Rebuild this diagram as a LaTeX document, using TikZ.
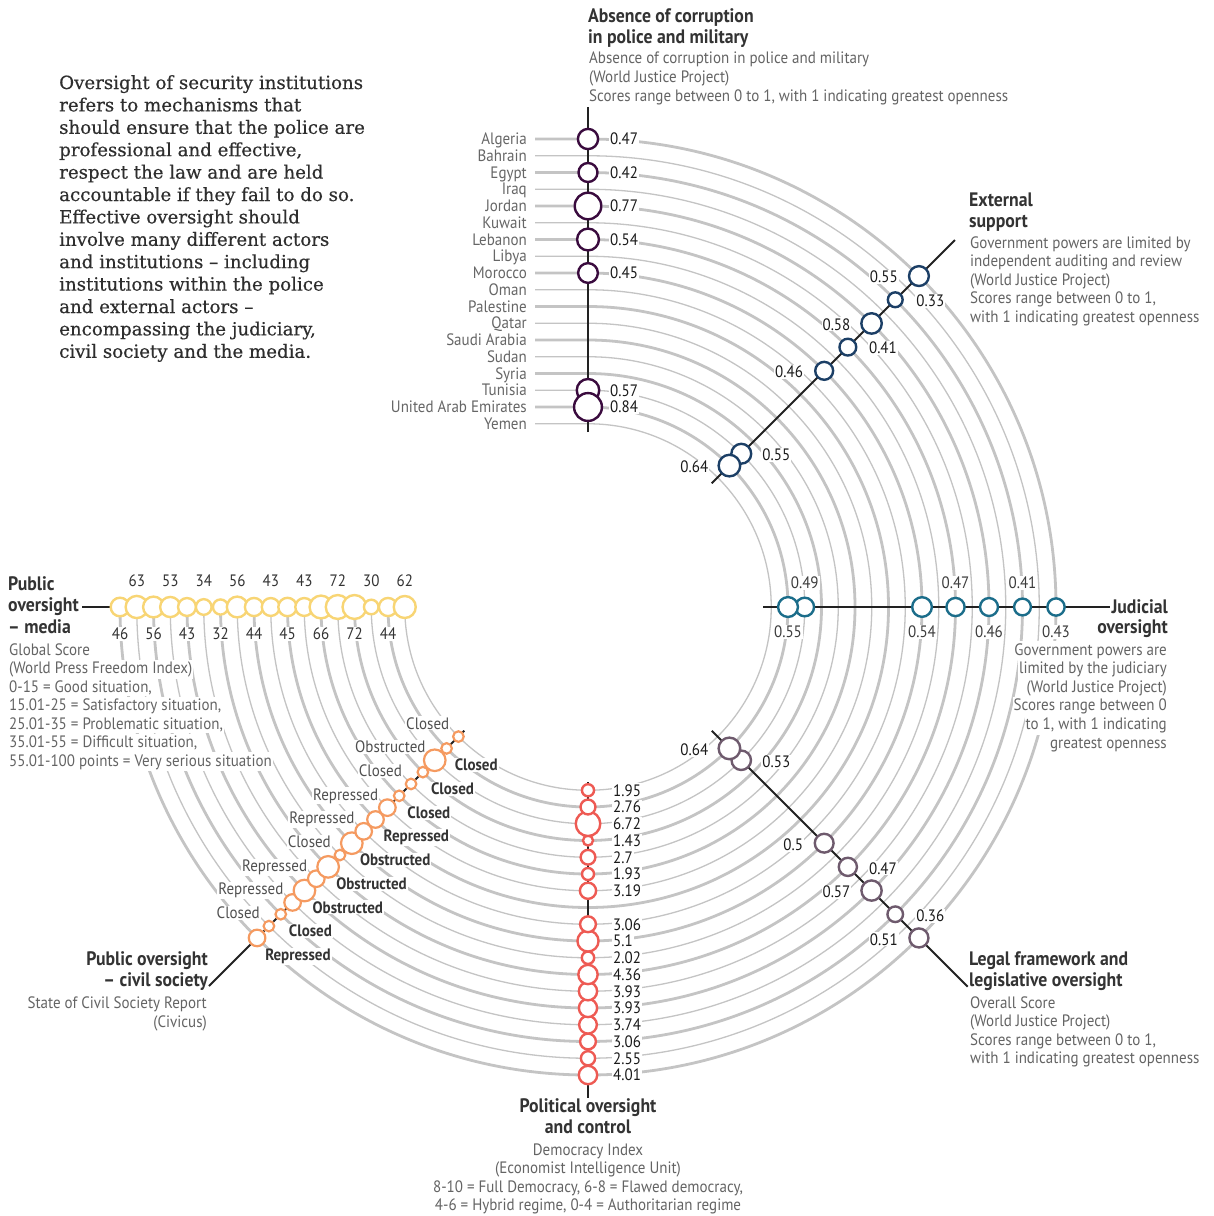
\documentclass[tikz,border=0pt]{standalone}
\usepackage{fontspec}
\setmainfont{PT Sans}[FakeStretch=0.91]
\newfontfamily\parafont{DejaVu Serif}[Ligatures=TeX, FakeBold=0.4]
\usetikzlibrary{calc}
\definecolor{axcol}{HTML}{222222}
\definecolor{arccol}{HTML}{C4C4C4}
\definecolor{cntcol}{HTML}{666666}
\definecolor{numcol}{HTML}{1A1A1A}
\definecolor{ttlcol}{HTML}{333333}
\definecolor{subcol}{HTML}{646464}
\definecolor{corrcol}{HTML}{3A0B3E}
\definecolor{extcol}{HTML}{1C3F66}
\definecolor{judcol}{HTML}{1B6D8A}
\definecolor{legcol}{HTML}{6E5A6D}
\definecolor{polcol}{HTML}{EE5A53}
\definecolor{civcol}{HTML}{F59A60}
\definecolor{medcol}{HTML}{F8D574}
\definecolor{paracol}{HTML}{2E2E2E}
% name, x, first baseline, skip, node options, list of lines
\newcommand\linesblock[6]{%
  \foreach \tl [count=\k from 0] in {#6} {
    \node[#5] (#1\k) at (#2, #3 - #4*\k) {\tl};
  }%
}
\begin{document}
\begin{tikzpicture}[x=1pt, y=1pt,
  arcline/.style={draw=arccol},
  axisline/.style={draw=axcol, line width=2pt},
  cntlab/.style={font=\fontsize{16.5}{19}\selectfont, text=cntcol, anchor=base east, inner sep=0pt},
  numlab/.style={font=\fontsize{16.5}{19}\selectfont, text=numcol, fill=white, inner sep=1pt},
  datacirc/.style={circle, fill=white, line width=2.4pt, inner sep=0pt},
  ttl/.style={font=\fontsize{19.5}{21}\selectfont\bfseries, text=ttlcol, inner sep=0pt},
  subtxt/.style={font=\fontsize{16.5}{19}\selectfont, text=subcol, fill=white, inner xsep=1pt, inner ysep=2pt},
  civL/.style={font=\fontsize{16.5}{19}\selectfont, text=subcol!80!black, fill=white, inner sep=1pt, anchor=base east},
  civR/.style={font=\fontsize{16.5}{19}\selectfont\bfseries, text=ttlcol, fill=white, inner sep=1pt, anchor=base west},
  paratxt/.style={font=\parafont\fontsize{18.2}{22}\selectfont, text=paracol, inner sep=0pt, anchor=base west}
]
\useasboundingbox (0,0) rectangle (1214,-1216);
\fill[white] (0,0) rectangle (1214,-1216);
\coordinate (C) at (588,-607);

% concentric country arcs
\foreach \i in {0,...,17}{
  \pgfmathsetmacro\r{468-16.75*\i}
  \pgfmathsetmacro\lw{ifthenelse(mod(\i,2)==0,2.8,1.3)}
  \draw[arcline, line width=\lw pt] ($(C)+(-53,\r)$) -- ($(C)+(0,\r)$) arc[start angle=90, end angle=-180, radius=\r];
}

% country names
\foreach \n [count=\i from 0] in {Algeria,Bahrain,Egypt,Iraq,Jordan,Kuwait,Lebanon,Libya,Morocco,Oman,Palestine,Qatar,Saudi Arabia,Sudan,Syria,Tunisia,United Arab Emirates,Yemen}{
  \pgfmathsetmacro\r{468-16.75*\i}
  \node[cntlab] (cn\i) at ($(C)+(-61,\r-5.5)$) {\n};
}

% intro paragraph
\linesblock{para}{59}{-89}{22.4}{paratxt}{Oversight of security institutions,refers to mechanisms that,should ensure that the police are,{professional and effective,},respect the law and are held,accountable if they fail to do so.,Effective oversight should,involve many different actors,and institutions – including,institutions within the police,and external actors –,{encompassing the judiciary,},civil society and the media.}

% axis titles and descriptions
\linesblock{corT}{588}{-22}{21}{ttl, anchor=base west}{Absence of corruption,in police and military}
\linesblock{corS}{588}{-63}{19}{subtxt, anchor=base west}{Absence of corruption in police and military,(World Justice Project),{Scores range between 0 to 1, with 1 indicating greatest openness}}

\linesblock{extT}{969}{-206}{21}{ttl, anchor=base west}{External,support}
\linesblock{extS}{969}{-248}{18.6}{subtxt, anchor=base west}{Government powers are limited by,independent auditing and review,(World Justice Project),{Scores range between 0 to 1,},with 1 indicating greatest openness}

\linesblock{judT}{1168}{-613}{20.5}{ttl, anchor=base east}{Judicial,oversight}
\linesblock{judS}{1168}{-655}{18.6}{subtxt, anchor=base east}{Government powers are,limited by the judiciary,(World Justice Project),Scores range between 0,{to 1, with 1 indicating},greatest openness}

\linesblock{legT}{969}{-965}{21.5}{ttl, anchor=base west}{Legal framework and,legislative oversight}
\linesblock{legS}{969}{-1008}{18.6}{subtxt, anchor=base west}{Overall Score,(World Justice Project),{Scores range between 0 to 1,},with 1 indicating greatest openness}

\linesblock{polT}{588}{-1112}{21}{ttl, anchor=base}{Political oversight,and control}
\linesblock{polS}{588}{-1155}{18.6}{subtxt, anchor=base}{Democracy Index,(Economist Intelligence Unit),{8-10 = Full Democracy, 6-8 = Flawed democracy,},{4-6 = Hybrid regime, 0-4 = Authoritarian regime}}

\linesblock{civT}{208}{-965}{21.5}{ttl, anchor=base east}{Public oversight,– civil society}
\linesblock{civS}{208}{-1008}{19}{subtxt, anchor=base east}{State of Civil Society Report,(Civicus)}

\linesblock{medT}{8}{-590}{21.5}{ttl, anchor=base west}{Public,oversight,– media}
\linesblock{medS}{8}{-655}{18.5}{subtxt, anchor=base west}{Global Score,(World Press Freedom Index),{0-15 = Good situation,},{15.01-25 = Satisfactory situation,},{25.01-35 = Problematic situation,},{35.01-55 = Difficult situation,},55.01-100 points = Very serious situation}

% ---------- value labels (white backed, mask arcs)
\foreach \i/\v in {0/0.47,2/0.42,4/0.77,6/0.54,8/0.45,15/0.57,16/0.84}{
  \pgfmathsetmacro\r{468-16.75*\i}
  \node[numlab, anchor=west] (corL\i) at ($(C)+(21,\r)$) {\v};
}
\foreach \i/\v/\dx/\an in {0/0.55/-20/east,2/0.33/20/west,4/0.58/-20/east,6/0.41/20/west,8/0.46/-20/east,15/0.55/20/west,16/0.64/-20/east}{
  \pgfmathsetmacro\r{468-16.75*\i}
  \node[numlab, anchor=\an] (extL\i) at ($(C)+(45:\r)+(\dx,-1)$) {\v};
}
\foreach \i/\v/\dy in {0/0.43/-25,2/0.41/24,4/0.46/-25,6/0.47/24,8/0.54/-25,15/0.49/24,16/0.55/-25}{
  \pgfmathsetmacro\r{468-16.75*\i}
  \node[numlab, text=subcol!60!black] (judL\i) at ($(C)+(0:\r)+(0,\dy)$) {\v};
}
\foreach \i/\v/\dx/\an in {0/0.51/-20/east,2/0.36/20/west,4/0.57/-20/east,6/0.47/20/west,8/0.5/-20/east,15/0.53/20/west,16/0.64/-20/east}{
  \pgfmathsetmacro\r{468-16.75*\i}
  \node[numlab, anchor=\an] (legL\i) at ($(C)+(-45:\r)+(\dx,-1.5)$) {\v};
}
\foreach \i/\v in {0/4.01,1/2.55,2/3.06,3/3.74,4/3.93,5/3.93,6/4.36,7/2.02,8/5.1,9/3.06,11/3.19,12/1.93,13/2.7,14/1.43,15/6.72,16/2.76,17/1.95}{
  \pgfmathsetmacro\r{468-16.75*\i}
  \node[numlab, anchor=west] (polL\i) at ($(C)+(24,-\r)$) {\v};
}
\foreach \i/\v in {0/46,1/63,2/56,3/53,4/43,5/34,6/32,7/56,8/44,9/43,10/45,11/43,12/66,13/72,14/72,15/30,16/44,17/62}{
  \pgfmathsetmacro\r{468-16.75*\i}
  \pgfmathsetmacro\dy{ifthenelse(mod(\i,2)==0,-27,26)}
  \node[numlab, text=ttlcol] (medL\i) at ($(C)+(-\r,\dy)$) {\v};
}
\foreach \i/\s in {1/Closed,3/Repressed,5/Repressed,7/Closed,9/Repressed,11/Repressed,13/Closed,15/Obstructed,17/Closed}{
  \pgfmathsetmacro\r{468-16.75*\i}
  \node[civL] (civL\i) at ($(C)+(-135:\r)+(-8,7.5)$) {\s};
}
\foreach \i/\s in {0/Repressed,2/Closed,4/Obstructed,6/Obstructed,8/Obstructed,10/Repressed,12/Closed,14/Closed,16/Closed}{
  \pgfmathsetmacro\r{468-16.75*\i}
  \node[civR] (civR\i) at ($(C)+(-135:\r)+(7,-22.5)$) {\s};
}

% ---------- axis lines
\foreach \nm/\a/\ri/\ro in {cor/90/175/500,ext/45/175/519,jud/0/175/522,leg/-45/175/537,pol/-90/175/491,civ/-135/175/536,med/180/175/506}{
  \coordinate (\nm A) at ($(C)+(\a:\ri)$);
  \coordinate (\nm B) at ($(C)+(\a:\ro)$);
  \draw[axisline] (\nm A) -- (\nm B);
}

% ---------- data circles
\foreach \i/\v in {0/0.47,2/0.42,4/0.77,6/0.54,8/0.45,15/0.57,16/0.84}{
  \pgfmathsetmacro\r{468-16.75*\i}
  \pgfmathsetmacro\d{33*sqrt(\v)-2.4}
  \node[datacirc, draw=corrcol, minimum size=\d pt] (cor\i) at ($(C)+(90:\r)$) {};
}
\foreach \i/\v in {0/0.55,2/0.33,4/0.58,6/0.41,8/0.46,15/0.55,16/0.64}{
  \pgfmathsetmacro\r{468-16.75*\i}
  \pgfmathsetmacro\d{30*sqrt(\v)-2.4}
  \node[datacirc, draw=extcol, minimum size=\d pt] (ext\i) at ($(C)+(45:\r)$) {};
}
\foreach \i/\v in {0/0.43,2/0.41,4/0.46,6/0.47,8/0.54,15/0.49,16/0.55}{
  \pgfmathsetmacro\r{468-16.75*\i}
  \pgfmathsetmacro\d{30*sqrt(\v)-2.4}
  \node[datacirc, draw=judcol, minimum size=\d pt] (jud\i) at ($(C)+(0:\r)$) {};
}
\foreach \i/\v in {0/0.51,2/0.36,4/0.57,6/0.47,8/0.5,15/0.53,16/0.64}{
  \pgfmathsetmacro\r{468-16.75*\i}
  \pgfmathsetmacro\d{30*sqrt(\v)-2.4}
  \node[datacirc, draw=legcol, minimum size=\d pt] (leg\i) at ($(C)+(-45:\r)$) {};
}
\foreach \i/\v in {0/4.01,1/2.55,2/3.06,3/3.74,4/3.93,5/3.93,6/4.36,7/2.02,8/5.1,9/3.06,11/3.19,12/1.93,13/2.7,14/1.43,15/6.72,16/2.76,17/1.95}{
  \pgfmathsetmacro\r{468-16.75*\i}
  \pgfmathsetmacro\d{10.4*sqrt(\v)-2.4}
  \node[datacirc, draw=polcol, minimum size=\d pt] (pol\i) at ($(C)+(-90:\r)$) {};
}
\foreach \i/\d in {0/16.6,1/10.6,2/10.6,3/16.6,4/21.6,5/16.6,6/21.6,7/10.6,8/21.6,9/16.6,10/16.6,11/16.6,12/10.6,13/10.6,14/10.6,15/21.6,16/10.6,17/10.6}{
  \pgfmathsetmacro\r{468-16.75*\i}
  \node[datacirc, draw=civcol, line width=2.2pt, minimum size=\d pt] (civ\i) at ($(C)+(-135:\r)$) {};
}
\foreach \i/\v in {0/46,1/63,2/56,3/53,4/43,5/34,6/32,7/56,8/44,9/43,10/45,11/43,12/66,13/72,14/72,15/30,16/44,17/62}{
  \pgfmathsetmacro\r{468-16.75*\i}
  \pgfmathsetmacro\d{3.1*sqrt(\v)-2.4}
  \node[datacirc, draw=medcol, minimum size=\d pt] (med\i) at ($(C)+(180:\r)$) {};
}
\end{tikzpicture}
\end{document}
